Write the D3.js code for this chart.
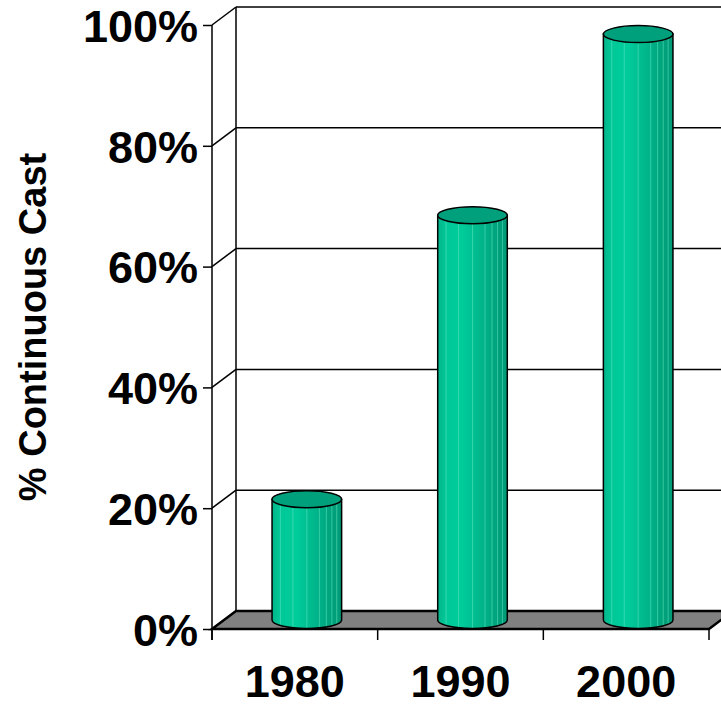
<!DOCTYPE html>
<html>
<head>
<meta charset="utf-8">
<title>Continuous Cast</title>
<style>
body { margin: 0; background: #fff; }
text { font-family: "Liberation Sans", Arial, sans-serif; font-weight: bold; }
</style>
</head>
<body>
<script src="https://cdn.jsdelivr.net/npm/d3@7/dist/d3.min.js"></script>
<script>
var years = ["1980", "1990", "2000"];
var values = [20, 67, 97];
var yTicks = [0, 20, 40, 60, 80, 100];

var w = 721, h = 707;
var x0 = 212, x1 = 709;   // front x range
var yTop = 25, yBot = 629; // front y range
var dx = 24, dy = -18;    // depth offset of back wall

var svg = d3.select("body").append("svg").attr("width", w).attr("height", h);

var y = d3.scaleLinear().domain([0, 100]).range([yBot, yTop]);
var x = d3.scaleBand().domain(years).range([x0, x1]);

// floor
svg.append("path")
  .attr("d", "M" + x0 + "," + yBot + "L" + x1 + "," + yBot + "L" + (x1 + dx) + "," + (yBot + dy) +
    "L" + (x0 + dx) + "," + (yBot + dy) + "Z")
  .attr("fill", "#808080").attr("stroke", "#000").attr("stroke-width", 2.5);

// back wall gridlines + side wall lines
var grid = svg.append("g");
yTicks.forEach(function(t) {
  if (t > 0) {
    grid.append("line")
      .attr("x1", x0 + dx).attr("x2", w + 20)
      .attr("y1", y(t) + dy).attr("y2", y(t) + dy)
      .attr("stroke", "#000").attr("stroke-width", 1.5);
  }
  grid.append("line")
    .attr("x1", x0).attr("x2", x0 + dx)
    .attr("y1", y(t)).attr("y2", y(t) + dy)
    .attr("stroke", "#000").attr("stroke-width", 1.5);
});
grid.append("line")
  .attr("x1", x0 + dx).attr("x2", x0 + dx)
  .attr("y1", y(100) + dy).attr("y2", y(0) + dy)
  .attr("stroke", "#000").attr("stroke-width", 1.5);

// cylinder gradient
var defs = svg.append("defs");
var grad = defs.append("linearGradient").attr("id", "cyl").attr("x1", "0").attr("x2", "1");
[[0, "#00b58a"], [0.12, "#00c898"], [0.35, "#00cc9b"], [0.6, "#00b88c"], [0.85, "#00a27c"], [1, "#009a76"]]
  .forEach(function(s) { grad.append("stop").attr("offset", s[0]).attr("stop-color", s[1]); });

var bw = x.bandwidth() * 0.42;
var rx = bw / 2, ry = 8.5;
var streaks = [0.12, 0.3, 0.5, 0.68, 0.78, 0.86, 0.93];

var bars = svg.append("g").selectAll("g").data(years).enter().append("g");
bars.each(function(d, i) {
  var g = d3.select(this);
  var cx = x(d) + x.bandwidth() / 2 + dx / 2;
  var yb = y(0) + dy / 2;
  var yt = y(values[i]) + dy / 2;
  g.append("path")
    .attr("d", "M" + (cx - rx) + "," + yt + "L" + (cx - rx) + "," + yb +
      "A" + rx + "," + ry + " 0 0 0 " + (cx + rx) + "," + yb +
      "L" + (cx + rx) + "," + yt + "Z")
    .attr("fill", "url(#cyl)").attr("stroke", "#000").attr("stroke-width", 1.5);
  streaks.forEach(function(s) {
    var sx = cx - rx + s * bw;
    var off = ry * Math.sqrt(1 - Math.pow((sx - cx) / rx, 2));
    g.append("line")
      .attr("x1", sx).attr("x2", sx)
      .attr("y1", yt + off).attr("y2", yb + off - 1)
      .attr("stroke", "#5fe6c2").attr("stroke-width", 0.8).attr("opacity", 0.7);
  });
  g.append("ellipse")
    .attr("cx", cx).attr("cy", yt).attr("rx", rx).attr("ry", ry)
    .attr("fill", "#00a07c").attr("stroke", "#000").attr("stroke-width", 1.5);
});

// y axis (front)
var yAxis = d3.axisLeft(y).tickValues(yTicks).tickSize(9).tickSizeOuter(0).tickPadding(5)
  .tickFormat(function(d) { return d + "%"; });
var ag = svg.append("g").attr("transform", "translate(" + x0 + ",0)").call(yAxis);
ag.select(".domain").remove();
ag.selectAll(".tick line").attr("stroke", "#000").attr("stroke-width", 1.5);
ag.selectAll(".tick text").attr("font-size", 45).attr("fill", "#000").attr("dy", "0.36em")
  .style("font-family", "'Liberation Sans', Arial, sans-serif").style("font-weight", "bold");

svg.append("line")
  .attr("x1", x0).attr("x2", x0).attr("y1", y(100)).attr("y2", yBot + 11)
  .attr("stroke", "#000").attr("stroke-width", 1.5);

// x ticks
var xb = [x0].concat(years.map(function(d) { return x(d) + x.bandwidth(); }));
xb.forEach(function(v) {
  svg.append("line").attr("x1", v).attr("x2", v).attr("y1", yBot).attr("y2", yBot + 11)
    .attr("stroke", "#000").attr("stroke-width", 1.5);
});
svg.append("g").selectAll("text").data(years).enter().append("text")
  .attr("x", function(d) { return x(d) + x.bandwidth() / 2; })
  .attr("y", 697)
  .attr("text-anchor", "middle").attr("font-size", 45)
  .text(function(d) { return d; });

// y title
svg.append("text")
  .attr("transform", "translate(46,327) rotate(-90)")
  .attr("text-anchor", "middle").attr("font-size", 38)
  .text("% Continuous Cast");
</script>
</body>
</html>
